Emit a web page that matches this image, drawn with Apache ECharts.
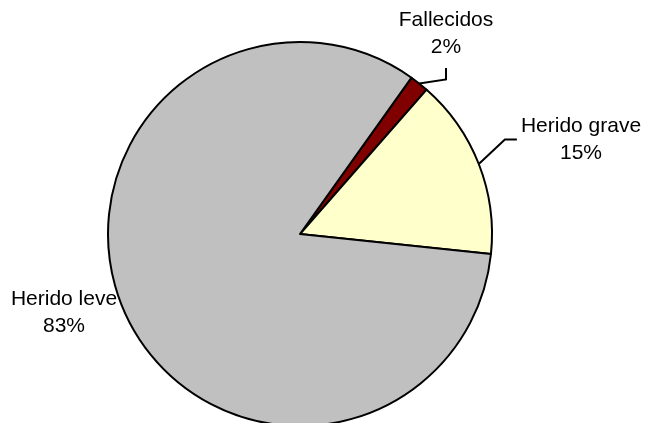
<!DOCTYPE html>
<html>
<head>
<meta charset="utf-8">
<script src="https://cdn.jsdelivr.net/npm/echarts@6/dist/echarts.min.js"></script>
<style>
    html, body { margin: 0; padding: 0; background: #fff; }
    #chart { width: 645px; height: 423px; }
</style>
</head>
<body>
<div id="chart"></div>
<script>
var names = ['Fallecidos', 'Herido grave', 'Herido leve'];
var values = [1.6, 15.2, 83.2];
var colors = ['#800000', '#FFFFCC', '#C0C0C0'];

// label anchor (centre of text block) per slice
var labelPos = [[446, 34], [581, 139.5], [64, 313]];

var myChart = echarts.init(document.getElementById('chart'));

var pieData = [];
for (var i = 0; i < names.length; i++) {
    pieData.push({
        name: names[i],
        value: values[i],
        itemStyle: { color: colors[i] },
        labelLine: { show: i < 2 }
    });
}

var option = {
    backgroundColor: '#fff',
    animation: false,
    series: [{
        type: 'pie',
        center: [300, 234],
        radius: 192,
        startAngle: 54.5,
        clockwise: true,
        avoidLabelOverlap: false,
        data: pieData,
        itemStyle: {
            borderColor: '#000',
            borderWidth: 2
        },
        label: {
            show: true,
            position: 'outside',
            color: '#000',
            fontFamily: 'Liberation Sans, Arial, sans-serif',
            fontSize: 21,
            lineHeight: 27,
            align: 'center',
            formatter: function (p) {
                return p.name + '\n' + Math.round(p.percent) + '%';
            }
        },
        labelLine: {
            show: true,
            lineStyle: { color: '#000', width: 2 }
        },
        emphasis: { disabled: true },
        labelLayout: function (params) {
            var idx = params.dataIndex;
            var pos = labelPos[idx];
            var w = params.labelRect.width;
            var h = params.labelRect.height;
            var p0 = params.labelLinePoints ? params.labelLinePoints[0] : [pos[0], pos[1]];
            var pts;
            if (idx === 0) {
                // goes across, then straight up under the text
                pts = [p0, [pos[0], p0[1] - 4], [pos[0], pos[1] + h / 2 + 7]];
            } else if (idx === 1) {
                var endX = pos[0] - w / 2 - 4;
                pts = [p0, [endX - 12, pos[1]], [endX, pos[1]]];
            } else {
                pts = [p0, p0, p0];
            }
            return {
                x: pos[0],
                y: pos[1],
                align: 'center',
                verticalAlign: 'middle',
                labelLinePoints: pts
            };
        }
    }]
};
myChart.setOption(option);
</script>
</body>
</html>
